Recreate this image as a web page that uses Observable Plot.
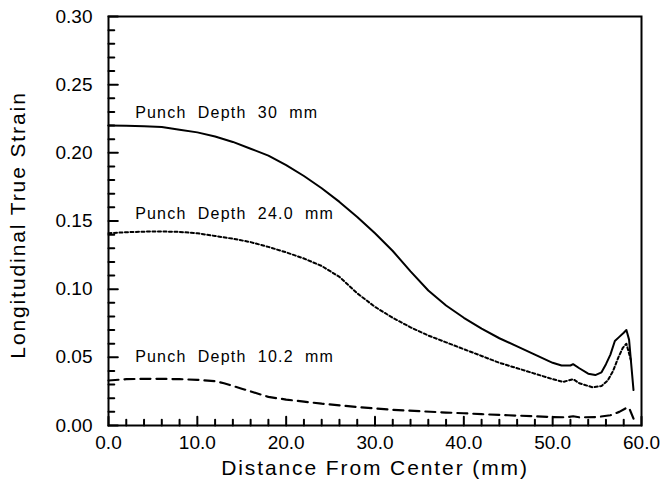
<!DOCTYPE html>
<html><head><meta charset="utf-8">
<script src="https://cdn.jsdelivr.net/npm/d3@7"></script>
<script src="https://cdn.jsdelivr.net/npm/@observablehq/plot@0.6"></script>
<style>
body{margin:0;background:#fff}
#chart svg{font-family:"Liberation Sans",Arial,sans-serif}
</style>
</head><body><div id="chart"></div>
<script>
// Punch depth 30 mm (solid)
const x30 = [0,2,4,6,8,10,12,14,16,18,20,22,24,26,28,30,32,34,36,38,40,42,44,46,48,50,51,52,52.3,53,54,54.8,55.5,56,56.5,57,57.5,58,58.3,58.6,59.1];
const y30 = [0.220,0.2198,0.2195,0.219,0.217,0.215,0.212,0.208,0.203,0.198,0.191,0.183,0.174,0.164,0.153,0.141,0.128,0.113,0.099,0.088,0.079,0.071,0.064,0.058,0.052,0.046,0.044,0.044,0.045,0.042,0.038,0.037,0.039,0.045,0.052,0.062,0.065,0.068,0.070,0.063,0.026];
// Punch depth 24.0 mm (dotted)
const x24 = [0,2,4,6,8,10,12,14,16,18,20,22,24,26,28,30,32,34,36,38,40,42,44,46,48,50,51.2,52.3,53,54.5,55.5,56.2,56.8,57.4,57.9,58.3,58.8];
const y24 = [0.141,0.1418,0.1422,0.1423,0.142,0.141,0.139,0.137,0.1345,0.131,0.127,0.1225,0.117,0.109,0.097,0.087,0.079,0.072,0.066,0.061,0.056,0.051,0.046,0.042,0.038,0.034,0.032,0.034,0.031,0.028,0.029,0.033,0.040,0.050,0.057,0.060,0.048];
// Punch depth 10.2 mm (dashed)
const x10 = [0,2,4,6,8,10,12,13,14,15,16,18,20,22,24,26,28,30,32,35,38,40,42,45,48,50,51.5,52.3,53,55,56.5,57.5,58.2,58.6,59.1];
const y10 = [0.033,0.034,0.0342,0.0342,0.034,0.0335,0.0325,0.031,0.029,0.027,0.025,0.021,0.019,0.0175,0.016,0.0148,0.0135,0.0125,0.0115,0.0105,0.0095,0.009,0.0083,0.0075,0.0068,0.0062,0.006,0.0068,0.006,0.0062,0.0075,0.010,0.0125,0.013,0.005];

const annoText = ["Punch  Depth  30  mm","Punch  Depth  24.0  mm","Punch  Depth  10.2  mm"];
const annoX = [3.0,3.0,3.0];
const annoY = [0.2296,0.1553,0.0505];

const xMajor = [0,10,20,30,40,50,60];
const yMajor = [0,0.05,0.10,0.15,0.20,0.25,0.30];
const xMinor = d3.range(0,61,2);
const yMinor = d3.range(0,31,1).map(d=>d/100);

const toRows = (xs, ys) => xs.map((x,i)=>({x, y: ys[i]}));
const annos = annoText.map((t,i)=>({t, x: annoX[i], y: annoY[i]}));
// inward tick segments, as two-point lines per tick (lengths in data units)
const xTickSegs = xMinor.flatMap((v,i) => {
  const len = xMajor.includes(v) ? 0.0065 : 0.0042;
  return [{id: "x"+i, x: v, y: 0}, {id: "x"+i, x: v, y: len}];
});
const yTickSegs = yMinor.flatMap((v,i) => {
  const len = yMajor.some(m => Math.abs(m - v) < 1e-9) ? 1.05 : 0.65;
  return [{id: "y"+i, x: 0, y: v}, {id: "y"+i, x: len, y: v}];
});

const chart = Plot.plot({
  width: 663, height: 491,
  marginLeft: 108, marginRight: 22, marginTop: 16, marginBottom: 66,
  style: {fontFamily: '"Liberation Sans", Arial, sans-serif', color: "black"},
  x: {domain: [0,60]},
  y: {domain: [0,0.30]},
  marks: [
    Plot.axisX({ticks: xMajor, tickSize: 0, tickPadding: 10, tickFormat: d3.format(".1f"), fontSize: 19, label: null}),
    Plot.axisY({ticks: yMajor, tickSize: 0, tickPadding: 16, tickFormat: d3.format(".2f"), fontSize: 19, label: null}),
    Plot.line(xTickSegs, {x: "x", y: "y", z: "id", stroke: "black", strokeWidth: 2}),
    Plot.line(yTickSegs, {x: "x", y: "y", z: "id", stroke: "black", strokeWidth: 2}),
    Plot.frame({stroke: "black", strokeWidth: 2, fill: "none"}),
    Plot.line(toRows(x30,y30), {x: "x", y: "y", stroke: "black", strokeWidth: 2}),
    Plot.line(toRows(x24,y24), {x: "x", y: "y", stroke: "black", strokeWidth: 2, strokeDasharray: "3,2.5"}),
    Plot.line(toRows(x10,y10), {x: "x", y: "y", stroke: "black", strokeWidth: 2.2, strokeDasharray: "10,6"}),
    Plot.text(annos, {x: "x", y: "y", text: "t", textAnchor: "start", fontSize: 16, fill: "black"}),
    Plot.text(["Distance From Center (mm)"], {frameAnchor: "bottom", lineAnchor: "middle", dy: 43, fontSize: 21, fill: "black"}),
    Plot.text(["Longitudinal True Strain"], {frameAnchor: "left", textAnchor: "middle", lineAnchor: "middle", dx: -90, dy: 4, rotate: -90, fontSize: 21, fill: "black"})
  ]
});
document.getElementById("chart").appendChild(chart);
const svg = d3.select(chart);
svg.selectAll("text").filter(function(){ return /Punch/.test(this.textContent); }).attr("letter-spacing", "1.2px");
svg.selectAll("text").filter(function(){ return /Distance|Longitudinal/.test(this.textContent); }).attr("letter-spacing", "1.9px");
svg.selectAll("text").attr("xml:space", "preserve").style("white-space", "pre");
</script></body></html>
